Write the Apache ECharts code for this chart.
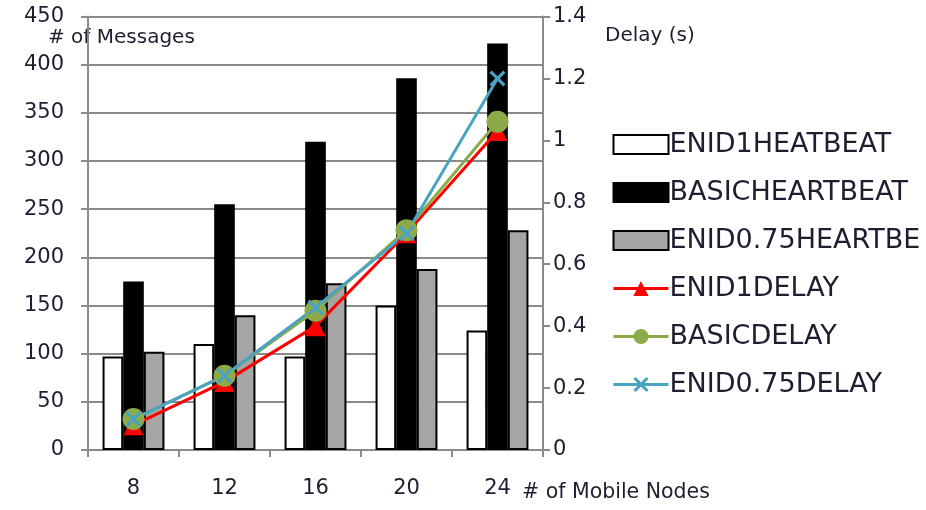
<!DOCTYPE html>
<html>
<head>
<meta charset="utf-8">
<script src="https://cdn.jsdelivr.net/npm/echarts@6/dist/echarts.min.js"></script>
<style>
  html, body { margin: 0; padding: 0; background: #fff; }
  #chart { width: 926px; height: 510px; }
</style>
</head>
<body>
<div id="chart"></div>
<script>
// Mobile node counts on the x axis
const nodes = ['8', '12', '16', '20', '24'];

// Heartbeat message counts (left axis)
const enid1Heartbeat = [97, 110, 97, 150, 124];
const basicHeartbeat = [175, 255, 320, 386, 422];
const enid075Heartbeat = [102, 140, 173, 188, 228];

// Delays in seconds (right axis)
const enid1Delay = [0.08, 0.22, 0.40, 0.70, 1.03];
const basicDelay = [0.10, 0.24, 0.45, 0.71, 1.06];
const enid075Delay = [0.10, 0.24, 0.46, 0.70, 1.20];

// Axis tick values
const msgTicks = { min: 0, max: 450, interval: 50 };
const delayTicks = { min: 0, max: 1.4, interval: 0.2 };

const FONT = 'DejaVu Sans';
const TEXT = '#1e1e30';
const AXIS = '#8a8a8a';

const crossPath = 'path://M0,1.4 L1.4,0 L5,3.6 L8.6,0 L10,1.4 L6.4,5 L10,8.6 L8.6,10 L5,6.4 L1.4,10 L0,8.6 L3.6,5 Z';

const chart = echarts.init(document.getElementById('chart'), null, { renderer: 'canvas' });

chart.setOption({
  animation: false,
  backgroundColor: '#ffffff',
  grid: { left: 88, right: 383, top: 16.5, bottom: 60 },
  legend: {
    orient: 'vertical',
    left: 612,
    top: 131,
    padding: 0,
    itemWidth: 55,
    itemHeight: 19,
    itemGap: 21,
    lineStyle: { width: 3 },
    textStyle: { fontFamily: FONT, fontSize: 27, color: TEXT, padding: [0, 0, 0, -4] },
    data: [
      { name: 'ENID1HEATBEAT', icon: 'rect' },
      { name: 'BASICHEARTBEAT', icon: 'rect' },
      { name: 'ENID0.75HEARTBE', icon: 'rect' },
      { name: 'ENID1DELAY' },
      { name: 'BASICDELAY' },
      { name: 'ENID0.75DELAY' }
    ]
  },
  xAxis: {
    type: 'category',
    data: nodes,
    boundaryGap: true,
    axisLine: { lineStyle: { color: AXIS, width: 2 } },
    axisTick: { show: true, length: 7, lineStyle: { color: AXIS, width: 2 } },
    axisLabel: { fontFamily: FONT, fontSize: 21, color: TEXT, margin: 28 }
  },
  yAxis: [
    {
      type: 'value',
      position: 'left',
      min: msgTicks.min, max: msgTicks.max, interval: msgTicks.interval,
      axisLine: { show: true, lineStyle: { color: AXIS, width: 2 } },
      axisTick: { show: true, length: 7, lineStyle: { color: AXIS, width: 2 } },
      axisLabel: { fontFamily: FONT, fontSize: 21, color: TEXT, margin: 24 },
      splitLine: { show: true, lineStyle: { color: AXIS, width: 2 } }
    },
    {
      type: 'value',
      position: 'right',
      min: delayTicks.min, max: delayTicks.max, interval: delayTicks.interval,
      axisLine: { show: true, lineStyle: { color: AXIS, width: 2 } },
      axisTick: { show: true, length: 7, lineStyle: { color: AXIS, width: 2 } },
      axisLabel: {
        fontFamily: FONT, fontSize: 21, color: TEXT, margin: 10,
        formatter: v => String(Math.round(v * 10) / 10)
      },
      splitLine: { show: false }
    }
  ],
  graphic: [
    { type: 'text', left: 48, top: 28, style: { text: '# of Messages', font: '20px "DejaVu Sans"', fill: TEXT } },
    { type: 'text', left: 605, top: 26, style: { text: 'Delay (s)', font: '20px "DejaVu Sans"', fill: TEXT } },
    { type: 'text', left: 522, top: 482, style: { text: '# of Mobile Nodes', font: '20.5px "DejaVu Sans"', fill: TEXT } }
  ],
  series: [
    {
      name: 'ENID1HEATBEAT', type: 'bar', yAxisIndex: 0,
      data: enid1Heartbeat,
      barGap: '0%', barCategoryGap: '32%',
      itemStyle: { color: '#ffffff', borderColor: '#000000', borderWidth: 2 }
    },
    {
      name: 'BASICHEARTBEAT', type: 'bar', yAxisIndex: 0,
      data: basicHeartbeat,
      barGap: '0%', barCategoryGap: '32%',
      itemStyle: { color: '#000000', borderColor: '#000000', borderWidth: 2 }
    },
    {
      name: 'ENID0.75HEARTBE', type: 'bar', yAxisIndex: 0,
      data: enid075Heartbeat,
      barGap: '0%', barCategoryGap: '32%',
      itemStyle: { color: '#a6a6a6', borderColor: '#000000', borderWidth: 2 }
    },
    {
      name: 'ENID1DELAY', type: 'line', yAxisIndex: 1,
      data: enid1Delay,
      symbol: 'triangle', symbolSize: 20,
      lineStyle: { color: '#ff0000', width: 3 },
      itemStyle: { color: '#ff0000' }
    },
    {
      name: 'BASICDELAY', type: 'line', yAxisIndex: 1,
      data: basicDelay,
      symbol: 'circle', symbolSize: 22,
      lineStyle: { color: '#8caa48', width: 3 },
      itemStyle: { color: '#8caa48' }
    },
    {
      name: 'ENID0.75DELAY', type: 'line', yAxisIndex: 1,
      data: enid075Delay,
      symbol: crossPath, symbolSize: 16,
      lineStyle: { color: '#4aa3c2', width: 3 },
      itemStyle: { color: '#4aa3c2' }
    }
  ]
});
</script>
</body>
</html>
